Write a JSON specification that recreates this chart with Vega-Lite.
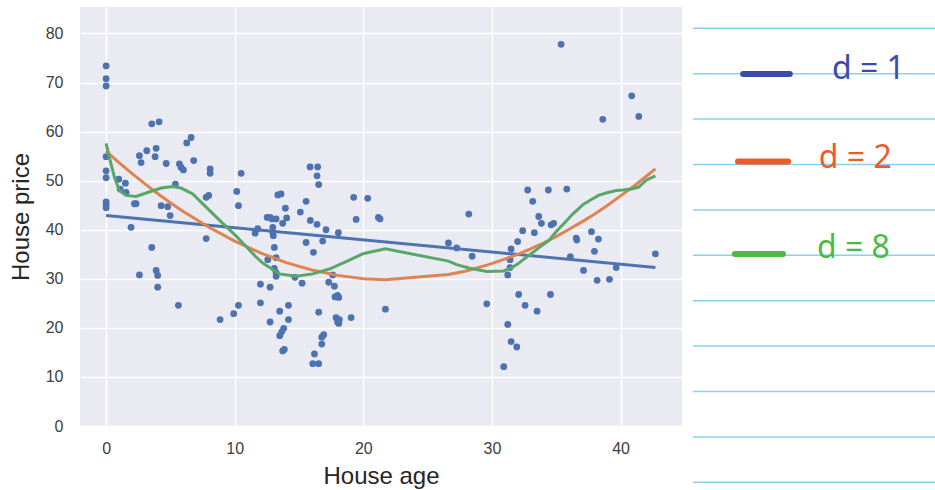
{
  "$schema": "https://vega.github.io/schema/vega-lite/v6.json",
  "background": "white",
  "padding": {"left": 9, "top": 7, "right": 0, "bottom": 0},
  "spacing": 10,
  "config": {"view": {"stroke": null}, "font": "Liberation Sans"},
  "datasets": {
    "houses": [
      {"age": 0, "price": 73.4}, {"age": 0, "price": 70.8}, {"age": 0, "price": 69.3}, {"age": 0, "price": 54.9},
      {"age": 0, "price": 52.0}, {"age": 0, "price": 50.6}, {"age": 0, "price": 45.7}, {"age": 0, "price": 45.1},
      {"age": 0, "price": 44.5}, {"age": 0.98, "price": 50.3}, {"age": 1.09, "price": 48.3}, {"age": 1.5, "price": 49.5},
      {"age": 1.55, "price": 47.6}, {"age": 1.94, "price": 40.5}, {"age": 2.2, "price": 45.3}, {"age": 2.33, "price": 45.3},
      {"age": 2.59, "price": 55.1}, {"age": 2.72, "price": 53.7}, {"age": 3.16, "price": 56.1}, {"age": 3.55, "price": 61.6},
      {"age": 4.12, "price": 62.0}, {"age": 3.89, "price": 56.6}, {"age": 3.81, "price": 54.9}, {"age": 4.67, "price": 53.5},
      {"age": 3.55, "price": 36.4}, {"age": 4.28, "price": 44.9}, {"age": 4.79, "price": 44.7}, {"age": 4.98, "price": 42.9},
      {"age": 5.39, "price": 49.3}, {"age": 5.7, "price": 53.4}, {"age": 5.83, "price": 52.7}, {"age": 6.01, "price": 52.2},
      {"age": 6.27, "price": 57.7}, {"age": 6.61, "price": 58.8}, {"age": 6.81, "price": 54.1}, {"age": 7.78, "price": 46.6},
      {"age": 7.98, "price": 47.0}, {"age": 7.78, "price": 38.2}, {"age": 8.09, "price": 52.4}, {"age": 8.09, "price": 51.5},
      {"age": 2.59, "price": 30.8}, {"age": 3.89, "price": 31.7}, {"age": 4.01, "price": 30.7}, {"age": 4.01, "price": 28.3},
      {"age": 5.62, "price": 24.6}, {"age": 8.86, "price": 21.7}, {"age": 9.92, "price": 22.9}, {"age": 10.29, "price": 24.6},
      {"age": 10.16, "price": 47.8}, {"age": 10.29, "price": 44.9}, {"age": 10.5, "price": 51.5},
      {"age": 11.59, "price": 39.3}, {"age": 11.79, "price": 40.2}, {"age": 12.52, "price": 42.5}, {"age": 12.75, "price": 42.5},
      {"age": 12.9, "price": 42.2}, {"age": 13.22, "price": 42.2}, {"age": 13.73, "price": 41.3}, {"age": 14.04, "price": 42.4},
      {"age": 12.96, "price": 40.5}, {"age": 12.96, "price": 39.4}, {"age": 13.0, "price": 38.8}, {"age": 13.08, "price": 36.4},
      {"age": 12.57, "price": 33.9}, {"age": 13.22, "price": 34.3}, {"age": 13.08, "price": 32.1}, {"age": 13.22, "price": 31.2},
      {"age": 13.22, "price": 30.5}, {"age": 13.35, "price": 47.1}, {"age": 13.6, "price": 47.3}, {"age": 13.94, "price": 44.4},
      {"age": 12.0, "price": 28.9}, {"age": 12.0, "price": 25.1}, {"age": 12.75, "price": 28.3}, {"age": 12.75, "price": 21.2},
      {"age": 13.5, "price": 23.4}, {"age": 14.18, "price": 24.6}, {"age": 14.18, "price": 21.7}, {"age": 13.81, "price": 19.9},
      {"age": 13.66, "price": 19.2}, {"age": 13.5, "price": 18.4}, {"age": 13.73, "price": 15.3}, {"age": 13.86, "price": 15.6},
      {"age": 14.68, "price": 30.3}, {"age": 15.24, "price": 29.1},
      {"age": 15.55, "price": 45.8}, {"age": 15.1, "price": 43.6}, {"age": 15.88, "price": 41.9}, {"age": 16.4, "price": 41.1},
      {"age": 17.1, "price": 40.0}, {"age": 18.06, "price": 39.4}, {"age": 16.84, "price": 37.7}, {"age": 15.55, "price": 37.4},
      {"age": 16.12, "price": 35.4}, {"age": 15.86, "price": 52.8}, {"age": 16.45, "price": 52.8}, {"age": 16.4, "price": 51.0},
      {"age": 16.53, "price": 49.2}, {"age": 16.53, "price": 23.2}, {"age": 16.92, "price": 18.6}, {"age": 16.77, "price": 18.1},
      {"age": 16.77, "price": 16.7}, {"age": 16.2, "price": 14.7}, {"age": 16.07, "price": 12.7}, {"age": 16.53, "price": 12.7},
      {"age": 17.31, "price": 29.3}, {"age": 17.75, "price": 28.5}, {"age": 17.62, "price": 30.8}, {"age": 17.8, "price": 26.3},
      {"age": 18.0, "price": 26.6}, {"age": 18.09, "price": 26.2}, {"age": 17.88, "price": 22.1}, {"age": 18.14, "price": 21.7},
      {"age": 18.0, "price": 21.2}, {"age": 18.09, "price": 20.9}, {"age": 19.05, "price": 22.1},
      {"age": 19.25, "price": 46.6}, {"age": 20.34, "price": 46.4}, {"age": 19.44, "price": 42.1}, {"age": 21.17, "price": 42.5},
      {"age": 21.3, "price": 42.2}, {"age": 21.72, "price": 23.8},
      {"age": 26.62, "price": 37.3}, {"age": 27.26, "price": 36.3}, {"age": 28.2, "price": 43.2}, {"age": 28.46, "price": 34.6},
      {"age": 29.6, "price": 24.9},
      {"age": 30.92, "price": 12.1}, {"age": 31.23, "price": 20.7}, {"age": 31.49, "price": 17.2}, {"age": 31.93, "price": 16.1},
      {"age": 31.23, "price": 30.8}, {"age": 31.41, "price": 32.3}, {"age": 31.41, "price": 33.9}, {"age": 31.49, "price": 36.1},
      {"age": 32.0, "price": 37.6}, {"age": 32.39, "price": 39.8}, {"age": 33.3, "price": 39.4}, {"age": 32.78, "price": 48.1},
      {"age": 34.39, "price": 48.1}, {"age": 35.82, "price": 48.3}, {"age": 33.17, "price": 45.8}, {"age": 33.64, "price": 42.7},
      {"age": 33.85, "price": 41.3}, {"age": 34.6, "price": 41.0}, {"age": 34.8, "price": 41.3}, {"age": 32.08, "price": 26.8},
      {"age": 32.58, "price": 24.6}, {"age": 33.51, "price": 23.4}, {"age": 34.55, "price": 26.8}, {"age": 35.38, "price": 77.8},
      {"age": 36.1, "price": 34.5}, {"age": 36.55, "price": 38.3}, {"age": 36.6, "price": 37.9}, {"age": 37.74, "price": 39.6},
      {"age": 38.28, "price": 38.1}, {"age": 37.97, "price": 35.6}, {"age": 37.12, "price": 31.7}, {"age": 38.18, "price": 29.7},
      {"age": 39.14, "price": 29.9}, {"age": 39.66, "price": 32.3}, {"age": 42.71, "price": 35.1}, {"age": 38.62, "price": 62.5},
      {"age": 40.87, "price": 67.3}, {"age": 41.42, "price": 63.1}
    ],
    "fits": [
      {"degree": "d = 1", "age": 0, "price": 42.9}, {"degree": "d = 1", "age": 42.71, "price": 32.3},
      {"degree": "d = 2", "age": 0, "price": 56.0}, {"degree": "d = 2", "age": 1, "price": 53.7},
      {"degree": "d = 2", "age": 2, "price": 51.5}, {"degree": "d = 2", "age": 3, "price": 49.4},
      {"degree": "d = 2", "age": 4, "price": 47.4}, {"degree": "d = 2", "age": 5, "price": 45.5},
      {"degree": "d = 2", "age": 6, "price": 43.7}, {"degree": "d = 2", "age": 8, "price": 40.5},
      {"degree": "d = 2", "age": 10, "price": 37.7}, {"degree": "d = 2", "age": 12, "price": 35.3},
      {"degree": "d = 2", "age": 14, "price": 33.3}, {"degree": "d = 2", "age": 16, "price": 31.8},
      {"degree": "d = 2", "age": 18, "price": 30.7}, {"degree": "d = 2", "age": 20, "price": 30.0},
      {"degree": "d = 2", "age": 21.72, "price": 29.8}, {"degree": "d = 2", "age": 26.62, "price": 30.9},
      {"degree": "d = 2", "age": 28, "price": 31.6}, {"degree": "d = 2", "age": 29.6, "price": 32.8},
      {"degree": "d = 2", "age": 31, "price": 34.0}, {"degree": "d = 2", "age": 32, "price": 35.0},
      {"degree": "d = 2", "age": 33, "price": 36.1}, {"degree": "d = 2", "age": 34, "price": 37.3},
      {"degree": "d = 2", "age": 35, "price": 38.6}, {"degree": "d = 2", "age": 36, "price": 40.1},
      {"degree": "d = 2", "age": 37, "price": 41.6}, {"degree": "d = 2", "age": 38, "price": 43.2},
      {"degree": "d = 2", "age": 39, "price": 45.0}, {"degree": "d = 2", "age": 40, "price": 46.9},
      {"degree": "d = 2", "age": 41, "price": 48.8}, {"degree": "d = 2", "age": 42, "price": 50.9},
      {"degree": "d = 2", "age": 42.71, "price": 52.4},
      {"degree": "d = 8", "age": 0, "price": 57.6}, {"degree": "d = 8", "age": 0.26, "price": 54.7},
      {"degree": "d = 8", "age": 0.65, "price": 50.7}, {"degree": "d = 8", "age": 1.03, "price": 48.0},
      {"degree": "d = 8", "age": 1.55, "price": 47.0}, {"degree": "d = 8", "age": 2.33, "price": 46.8},
      {"degree": "d = 8", "age": 3.24, "price": 47.6}, {"degree": "d = 8", "age": 4.28, "price": 48.5},
      {"degree": "d = 8", "age": 5.18, "price": 48.8}, {"degree": "d = 8", "age": 5.83, "price": 48.5},
      {"degree": "d = 8", "age": 6.74, "price": 47.3}, {"degree": "d = 8", "age": 7.78, "price": 44.6},
      {"degree": "d = 8", "age": 9.07, "price": 41.3}, {"degree": "d = 8", "age": 10.0, "price": 39.0},
      {"degree": "d = 8", "age": 10.89, "price": 36.6}, {"degree": "d = 8", "age": 11.6, "price": 34.6},
      {"degree": "d = 8", "age": 12.18, "price": 33.2}, {"degree": "d = 8", "age": 13.48, "price": 31.0},
      {"degree": "d = 8", "age": 14.77, "price": 30.5}, {"degree": "d = 8", "age": 16.07, "price": 31.0},
      {"degree": "d = 8", "age": 17.36, "price": 32.0}, {"degree": "d = 8", "age": 18.66, "price": 33.5},
      {"degree": "d = 8", "age": 19.96, "price": 35.1}, {"degree": "d = 8", "age": 21.72, "price": 36.1},
      {"degree": "d = 8", "age": 26.62, "price": 33.6}, {"degree": "d = 8", "age": 27.26, "price": 32.9},
      {"degree": "d = 8", "age": 28.2, "price": 32.2}, {"degree": "d = 8", "age": 29.6, "price": 31.5},
      {"degree": "d = 8", "age": 30.92, "price": 31.6}, {"degree": "d = 8", "age": 31.49, "price": 32.2},
      {"degree": "d = 8", "age": 32.0, "price": 33.0}, {"degree": "d = 8", "age": 32.39, "price": 33.8},
      {"degree": "d = 8", "age": 33.0, "price": 35.0}, {"degree": "d = 8", "age": 33.69, "price": 36.4},
      {"degree": "d = 8", "age": 34.47, "price": 37.9}, {"degree": "d = 8", "age": 34.99, "price": 39.6},
      {"degree": "d = 8", "age": 35.82, "price": 41.9}, {"degree": "d = 8", "age": 36.28, "price": 43.2},
      {"degree": "d = 8", "age": 37.12, "price": 45.2}, {"degree": "d = 8", "age": 37.58, "price": 45.9},
      {"degree": "d = 8", "age": 38.28, "price": 47.0}, {"degree": "d = 8", "age": 38.88, "price": 47.5},
      {"degree": "d = 8", "age": 39.66, "price": 48.0}, {"degree": "d = 8", "age": 40.17, "price": 48.1},
      {"degree": "d = 8", "age": 40.87, "price": 48.3}, {"degree": "d = 8", "age": 41.42, "price": 48.7},
      {"degree": "d = 8", "age": 41.99, "price": 50.1}, {"degree": "d = 8", "age": 42.71, "price": 51.0}
    ],
    "paper": [
      {"row": 0}, {"row": 1}, {"row": 2}, {"row": 3}, {"row": 4}, {"row": 5},
      {"row": 6}, {"row": 7}, {"row": 8}, {"row": 9}, {"row": 10}
    ],
    "notes": [
      {"label": "d = 1", "dashStart": 0.207, "dashEnd": 0.40, "dashRow": 1.007, "textStart": 0.574, "textRow": 1.117},
      {"label": "d = 2", "dashStart": 0.186, "dashEnd": 0.393, "dashRow": 2.934, "textStart": 0.52, "textRow": 3.077},
      {"label": "d = 8", "dashStart": 0.173, "dashEnd": 0.372, "dashRow": 4.97, "textStart": 0.512, "textRow": 5.06}
    ]
  },
  "hconcat": [
    {
      "width": 602,
      "height": 419,
      "view": {"fill": "#eaeaf2", "stroke": null},
      "encoding": {
        "x": {
          "field": "age", "type": "quantitative",
          "scale": {"domain": [-2.03, 44.78], "nice": false, "zero": false},
          "axis": {
            "values": [0, 10, 20, 30, 40], "grid": true, "gridColor": "white", "gridWidth": 1.5,
            "domain": false, "ticks": false, "tickSize": 0, "labelPadding": 14, "labelFontSize": 16,
            "labelColor": "#404040", "title": "House age", "titleFontSize": 24, "titleFontWeight": "normal",
            "titleColor": "#262626", "titlePadding": 8
          }
        },
        "y": {
          "field": "price", "type": "quantitative",
          "scale": {"domain": [0, 85.4], "nice": false, "zero": false},
          "axis": {
            "values": [0, 10, 20, 30, 40, 50, 60, 70, 80], "grid": true, "gridColor": "white", "gridWidth": 1.5,
            "domain": false, "ticks": false, "tickSize": 0, "labelPadding": 17, "labelFontSize": 16,
            "labelColor": "#404040", "title": "House price", "titleFontSize": 24, "titleFontWeight": "normal",
            "titleColor": "#262626", "titlePadding": 12
          }
        }
      },
      "layer": [
        {
          "data": {"name": "houses"},
          "mark": {"type": "circle", "size": 46, "opacity": 1, "color": "#4c72b0"}
        },
        {
          "data": {"name": "fits"},
          "mark": {"type": "line", "strokeWidth": 3},
          "encoding": {
            "color": {
              "field": "degree", "type": "nominal",
              "scale": {"domain": ["d = 1", "d = 2", "d = 8"], "range": ["#4c72b0", "#dd8452", "#55a868"]},
              "legend": null
            }
          }
        }
      ]
    },
    {
      "width": 242,
      "height": 483,
      "view": {"fill": null, "stroke": null},
      "layer": [
        {
          "data": {"name": "paper"},
          "mark": {"type": "rule", "color": "#86d2f2", "strokeWidth": 1.5},
          "encoding": {
            "y": {"field": "row", "type": "quantitative", "scale": {"domain": [-0.469, 10.17], "reverse": true, "nice": false, "zero": false}, "axis": null}
          }
        },
        {
          "data": {"name": "notes"},
          "mark": {"type": "rule", "strokeWidth": 6, "strokeCap": "round"},
          "encoding": {
            "x": {"field": "dashStart", "type": "quantitative", "scale": {"domain": [0, 1], "nice": false, "zero": false}, "axis": null},
            "x2": {"field": "dashEnd"},
            "y": {"field": "dashRow", "type": "quantitative", "axis": null},
            "color": {"field": "label", "type": "nominal", "scale": {"domain": ["d = 1", "d = 2", "d = 8"], "range": ["#3a4bb0", "#ef5a2a", "#4dba44"]}, "legend": null}
          }
        },
        {
          "data": {"name": "notes"},
          "mark": {"type": "text", "align": "left", "baseline": "alphabetic", "fontSize": 32, "font": "Noto Sans"},
          "encoding": {
            "x": {"field": "textStart", "type": "quantitative", "axis": null},
            "y": {"field": "textRow", "type": "quantitative", "axis": null},
            "text": {"field": "label"},
            "color": {"field": "label", "type": "nominal", "legend": null}
          }
        }
      ]
    }
  ],
  "resolve": {"scale": {"x": "independent", "y": "independent", "color": "independent"}}
}
